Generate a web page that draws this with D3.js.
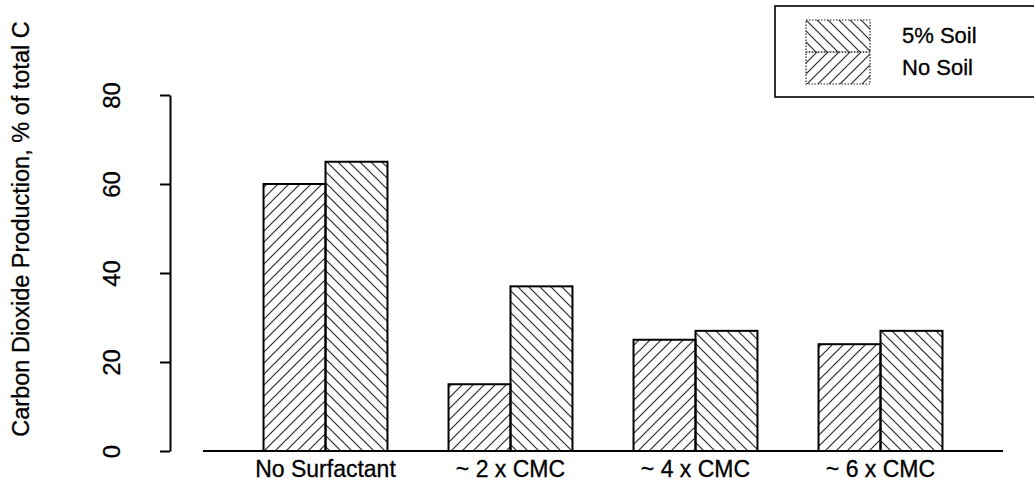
<!DOCTYPE html>
<html>
<head>
<meta charset="utf-8">
<script src="https://cdn.jsdelivr.net/npm/d3@7"></script>
<style>
  body { margin: 0; background: #fff; }
  svg { display: block; font-family: "Liberation Sans", Arial, Helvetica, sans-serif; }
  svg text { stroke: #000; stroke-width: 0.3px; }
</style>
</head>
<body>
<script>
// values
var categories = ["No Surfactant", "~ 2 x CMC", "~ 4 x CMC", "~ 6 x CMC"];
var seriesNames = ["No Soil", "5% Soil"];
var noSoil = [60, 15, 25, 24];
var soil5 = [65, 37, 27, 27];
var yTicks = [0, 20, 40, 60, 80];
var legendOrder = ["5% Soil", "No Soil"];

var W = 1034, H = 489;

var x = d3.scaleBand()
    .domain(categories)
    .range([233, 973])
    .paddingInner(0.33)
    .paddingOuter(0.165);

var xs = d3.scaleBand()
    .domain(seriesNames)
    .range([0, x.bandwidth()]);

var y = d3.scaleLinear()
    .domain([0, 80])
    .range([451, 95]);

var hatch = {"No Soil": "fwd", "5% Soil": "back"};

var svg = d3.select("body").append("svg")
    .attr("width", W)
    .attr("height", H);

var defs = svg.append("defs");
var p1 = defs.append("pattern")
    .attr("id", "fwd")
    .attr("patternUnits", "userSpaceOnUse")
    .attr("width", 11).attr("height", 11);
p1.append("path")
    .attr("d", "M0,11 L11,0 M-1,1 L1,-1 M10,12 L12,10")
    .attr("stroke", "#2a2a2a").attr("stroke-width", 1.2);
var p2 = defs.append("pattern")
    .attr("id", "back")
    .attr("patternUnits", "userSpaceOnUse")
    .attr("width", 11).attr("height", 11);
p2.append("path")
    .attr("d", "M0,0 L11,11 M-1,10 L1,12 M10,-1 L12,1")
    .attr("stroke", "#2a2a2a").attr("stroke-width", 1.2);

// y axis
var yaxis = d3.axisLeft(y).tickValues(yTicks).tickSize(10).tickSizeOuter(0);
var ga = svg.append("g")
    .attr("transform", "translate(170,0)")
    .call(yaxis);
ga.select(".domain").attr("stroke", "#000").attr("stroke-width", 2);
ga.selectAll(".tick line").attr("stroke", "#000").attr("stroke-width", 2);
ga.selectAll(".tick text")
    .attr("x", null).attr("dy", "0.35em")
    .attr("transform", "translate(-58,0) rotate(-90)")
    .attr("text-anchor", "middle")
    .attr("font-size", 24)
    .attr("fill", "#000");

svg.append("text")
    .attr("transform", "translate(29,229) rotate(-90)")
    .attr("text-anchor", "middle")
    .attr("font-size", 23.5)
    .text("Carbon Dioxide Production, % of total C");

// baseline
svg.append("line")
    .attr("x1", x.range()[0] - 30).attr("x2", x.range()[1] + 30)
    .attr("y1", y(0)).attr("y2", y(0))
    .attr("stroke", "#000").attr("stroke-width", 2);

// bars
var rows = [];
categories.forEach(function(c, i) {
  rows.push({cat: c, s: "No Soil", v: noSoil[i]});
  rows.push({cat: c, s: "5% Soil", v: soil5[i]});
});

svg.append("g").selectAll("rect")
  .data(rows)
  .enter().append("rect")
  .attr("x", function(d) { return x(d.cat) + xs(d.s); })
  .attr("y", function(d) { return y(d.v); })
  .attr("width", xs.bandwidth())
  .attr("height", function(d) { return y(0) - y(d.v); })
  .attr("fill", function(d) { return "url(#" + hatch[d.s] + ")"; })
  .attr("stroke", "#000")
  .attr("stroke-width", 2);

// category labels
svg.append("g").selectAll("text")
  .data(categories)
  .enter().append("text")
  .attr("x", function(d) { return x(d) + x.bandwidth() / 2; })
  .attr("y", 477)
  .attr("text-anchor", "middle")
  .attr("font-size", 23)
  .text(function(d) { return d; });

// legend
var lg = svg.append("g");
lg.append("rect")
  .attr("x", 775).attr("y", 6)
  .attr("width", 280).attr("height", 91)
  .attr("fill", "#fff")
  .attr("stroke", "#000").attr("stroke-width", 1.6);

var li = lg.selectAll(".item")
  .data(legendOrder)
  .enter().append("g")
  .attr("class", "item")
  .attr("transform", function(d, i) { return "translate(806," + (20 + i * 32) + ")"; });
li.append("rect")
  .attr("width", 64).attr("height", 32)
  .attr("fill", function(d) { return "url(#" + hatch[d] + ")"; })
  .attr("stroke", "#222")
  .attr("stroke-width", 1.2)
  .attr("stroke-dasharray", "1.5,1.5");
li.append("text")
  .attr("x", 96).attr("y", 23)
  .attr("font-size", 22)
  .text(function(d) { return d; });
</script>
</body>
</html>
